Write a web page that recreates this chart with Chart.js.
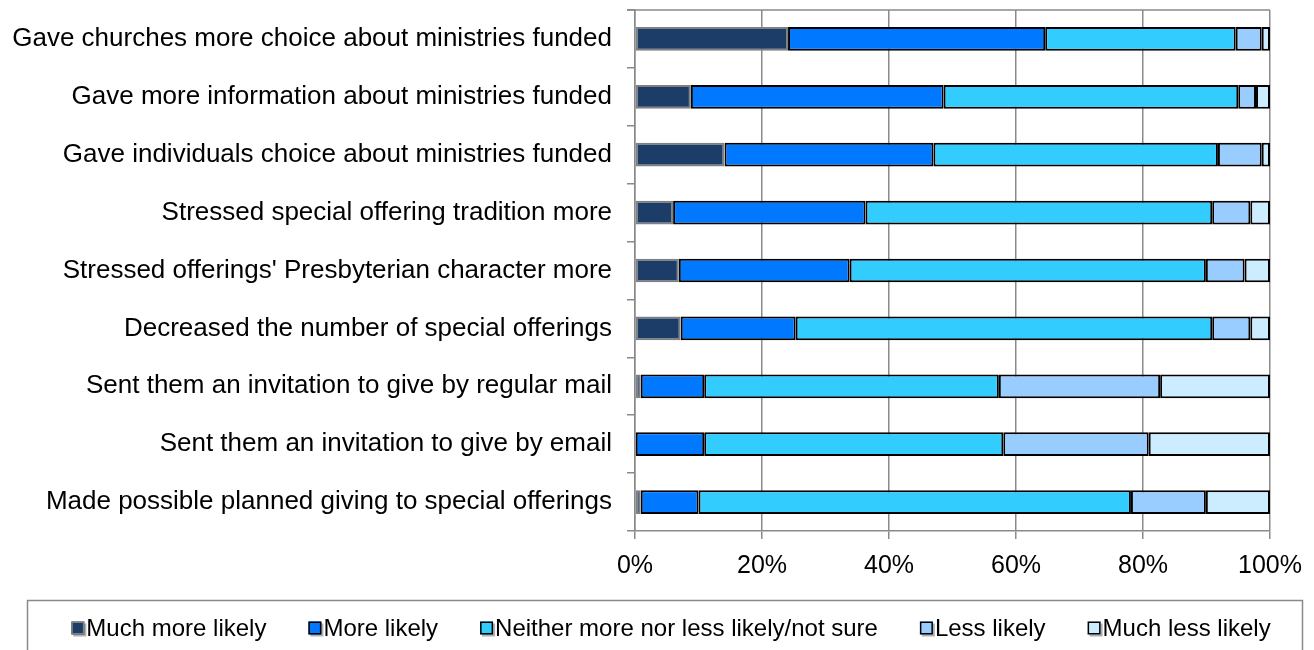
<!DOCTYPE html>
<html>
<head>
<meta charset="utf-8">
<script src="https://cdn.jsdelivr.net/npm/chart.js@4.4.1/dist/chart.umd.min.js"></script>
<style>
  body { margin: 0; background: #fff; }
  #wrap { width: 1314px; height: 650px; position: relative; }
</style>
</head>
<body>
<div id="wrap"><canvas id="likely-chart"></canvas></div>
<script>
// statements asked about
const statements = [
    'Gave churches more choice about ministries funded',
    'Gave more information about ministries funded',
    'Gave individuals choice about ministries funded',
    'Stressed special offering tradition more',
    "Stressed offerings' Presbyterian character more",
    'Decreased the number of special offerings',
    'Sent them an invitation to give by regular mail',
    'Sent them an invitation to give by email',
    'Made possible planned giving to special offerings'
];

// answer shares, percent of respondents
const muchMoreLikely = [24.1, 8.8, 14.1, 6.0, 6.9, 7.2, 0.9, 0, 0.9];
const moreLikely = [40.5, 39.8, 32.9, 30.3, 26.9, 18.1, 10.0, 10.9, 9.1];
const neitherLikely = [30.0, 46.4, 44.8, 54.6, 56.1, 65.6, 46.4, 47.1, 68.1];
const lessLikely = [4.1, 2.8, 6.9, 6.0, 6.1, 6.0, 25.4, 22.9, 11.8];
const muchLessLikely = [1.3, 2.2, 1.3, 3.1, 4.0, 3.1, 17.3, 19.1, 10.1];

const answerLabels = [
    'Much more likely',
    'More likely',
    'Neither more nor less likely/not sure',
    'Less likely',
    'Much less likely'
];

const gridGray = '#8a8a8a';
const fontFamily = "'Liberation Sans', Arial, sans-serif";

// top frame line of the plot area
const plotFrame = {
    id: 'plotFrame',
    afterDatasetsDraw(chart) {
        const { ctx, chartArea } = chart;
        ctx.save();
        ctx.strokeStyle = gridGray;
        ctx.lineWidth = 1.5;
        ctx.beginPath();
        ctx.moveTo(chartArea.left - 8, chartArea.top);
        ctx.lineTo(chartArea.right, chartArea.top);
        ctx.stroke();
        ctx.restore();
    }
};

// legend in a framed box under the chart
const boxedLegend = {
    id: 'boxedLegend',
    afterDraw(chart) {
        const ctx = chart.ctx;
        const sets = chart.data.datasets;
        ctx.save();
        ctx.strokeStyle = gridGray;
        ctx.lineWidth = 1.5;
        ctx.strokeRect(27.5, 600.5, 1275, 70);

        ctx.font = '24px ' + fontFamily;
        ctx.textBaseline = 'middle';
        ctx.fillStyle = '#000';
        const box = 13, textGap = 2, itemGap = 42;
        const widths = sets.map(ds => ctx.measureText(ds.label).width);
        const total = widths.reduce((a, w) => a + box + textGap + w, 0) + itemGap * (sets.length - 1);
        let x = 671 - total / 2;
        const y = 628;
        sets.forEach((ds, i) => {
            // small shadow under each marker
            ctx.fillStyle = '#b0b0b0';
            ctx.fillRect(x + 2, y - box / 2 + 2, box, box);
            ctx.fillStyle = ds.backgroundColor;
            ctx.fillRect(x, y - box / 2, box, box);
            ctx.strokeStyle = ds.borderColor;
            ctx.lineWidth = 1.5;
            ctx.strokeRect(x + 0.75, y - box / 2 + 0.75, box - 1.5, box - 1.5);
            ctx.fillStyle = '#000';
            ctx.fillText(ds.label, x + box + textGap, y + 1);
            x += box + textGap + widths[i] + itemGap;
        });
        ctx.restore();
    }
};

const colors = ['#1B3D68', '#0078FF', '#33CCFF', '#99CCFF', '#CCECFF'];
const borders = ['#808080', '#000000', '#000000', '#000000', '#000000'];
const seriesValues = [muchMoreLikely, moreLikely, neitherLikely, lessLikely, muchLessLikely];

const ctx = document.getElementById('likely-chart');
new Chart(ctx, {
    type: 'bar',
    data: {
        labels: statements,
        datasets: seriesValues.map((vals, i) => ({
            label: answerLabels[i],
            data: vals,
            backgroundColor: colors[i],
            borderColor: borders[i],
            borderWidth: 2,
            borderSkipped: false,
            categoryPercentage: 0.41,
            barPercentage: 1
        }))
    },
    options: {
        indexAxis: 'y',
        responsive: true,
        maintainAspectRatio: false,
        animation: false,
        layout: {
            padding: { left: 0, right: 44, top: 10, bottom: 69 }
        },
        plugins: {
            legend: { display: false },
            tooltip: { enabled: false }
        },
        scales: {
            x: {
                stacked: true,
                min: 0,
                max: 100,
                ticks: {
                    stepSize: 20,
                    padding: 12,
                    color: '#000',
                    font: { family: fontFamily, size: 25 },
                    callback: v => v + '%'
                },
                grid: {
                    color: gridGray,
                    lineWidth: 1.5,
                    tickLength: 8
                },
                border: { color: gridGray, width: 1.5 },
                afterFit: scale => {
                    scale.height = 50;
                    scale.paddingLeft = 0;
                    scale.paddingRight = 0;
                }
            },
            y: {
                stacked: true,
                ticks: {
                    padding: 15,
                    color: '#000',
                    font: { family: fontFamily, size: 26 }
                },
                grid: {
                    color: gridGray,
                    lineWidth: 1.5,
                    drawOnChartArea: false,
                    tickLength: 8,
                    offset: true
                },
                border: { color: gridGray, width: 1.5 },
                afterFit: scale => {
                    scale.width = 635;
                    scale.paddingTop = 0;
                    scale.paddingBottom = 0;
                }
            }
        }
    },
    plugins: [plotFrame, boxedLegend]
});
</script>
</body>
</html>
